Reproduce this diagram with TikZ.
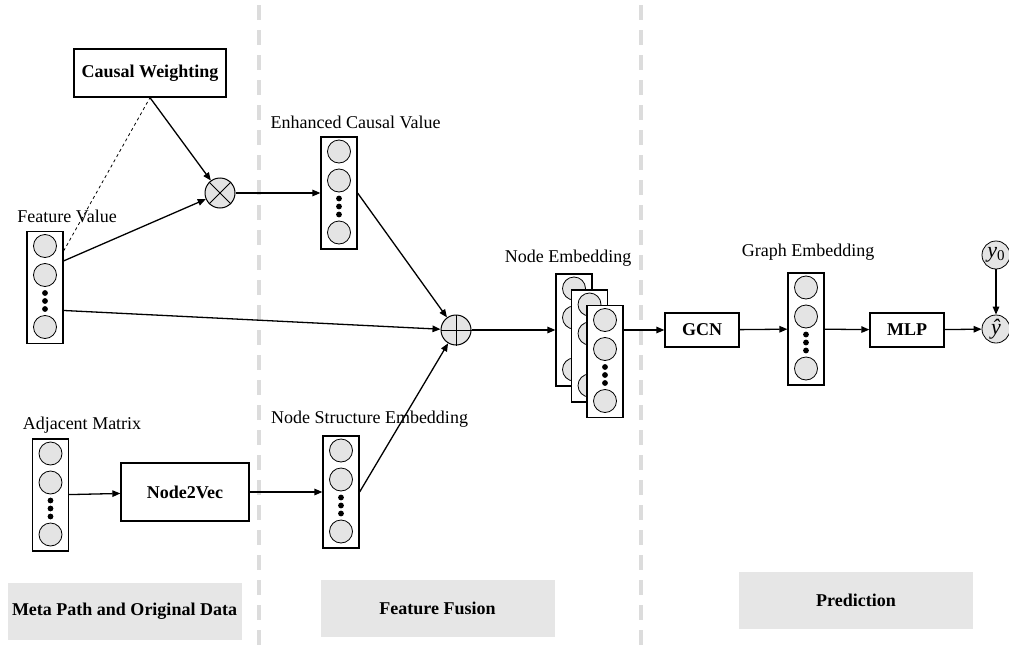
\documentclass[tikz,border=0pt]{standalone}
\usepackage{fontspec}
\setmainfont{Liberation Serif}
\usetikzlibrary{arrows.meta}
\definecolor{cGray}{RGB}{228,228,228}
\definecolor{bGray}{RGB}{230,230,230}
\definecolor{sepGray}{RGB}{220,220,220}
% feature vector: box with three cells and three dots
\newcommand{\featvec}[2]{%
  \node[vbox] (#1) at (#2) {};
  \foreach \k/\dy in {a/41.5,b/12.5,c/-39.5}
    \node[cell] (#1\k) at ([yshift=\dy pt]#1.center) {};
  \foreach \dy in {-5.5,-13.5,-21.5}
    \fill ([yshift=\dy pt]#1.center) circle (2.9);
}

\begin{document}
\begin{tikzpicture}[x=1pt,y=-1pt,font=\fontsize{18}{21}\selectfont,
  vbox/.style={draw,fill=white,line width=1.2pt,minimum width=36pt,minimum height=112pt,inner sep=0pt},
  cell/.style={circle,draw,fill=cGray,line width=0.8pt,minimum size=23pt,inner sep=0pt},
  opc/.style={circle,draw,fill=cGray,line width=1pt,minimum size=30pt,inner sep=0pt},
  bx/.style={draw,line width=1.3pt,inner sep=0pt,font=\fontsize{18}{21}\selectfont\bfseries},
  tag/.style={fill=bGray,minimum width=234pt,minimum height=57pt,inner sep=0pt,font=\fontsize{18}{21}\selectfont\bfseries},
  ycirc/.style={circle,draw,fill=cGray,line width=0.8pt,minimum size=28pt,inner sep=0pt,font=\fontsize{22}{22}\selectfont\itshape},
  ar/.style={-{Triangle[length=8pt,width=6.5pt]},line width=1.3pt},
  ln/.style={line width=1.3pt},
  divider/.style={draw=sepGray,line width=4pt,dash pattern=on 15pt off 10pt}]
\useasboundingbox (0,0) rectangle (1009,645);
\draw[divider] (259,5) -- (259,645);
\draw[divider] (641,5) -- (641,645);
\node[bx,minimum width=152pt,minimum height=48pt] (cw) at (150,73) {Causal Weighting};
\node[opc] (ot) at (220,193) {};
\draw[line width=1pt] (ot.45) -- (ot.225) (ot.135) -- (ot.315);
\node[opc] (op) at (456,330) {};
\draw[line width=1pt] (op.north) -- (op.south) (op.west) -- (op.east);
\featvec{fv}{45,287.5}
\featvec{ecv}{339,193}
\featvec{adj}{50.5,495}
\featvec{nse}{341,492}
\featvec{neA}{574,330}
\featvec{neB}{589.5,346}
\featvec{neC}{605,361.5}
\featvec{ge}{806,329}
\node (lfv) at (67,216) {Feature Value};
\node (lecv) at (355.5,122) {Enhanced Causal Value};
\node (ladj) at (82,425) {Adjacent Matrix};
\node (lnse) at (369.5,419) {Node Structure Embedding};
\node (lne) at (568,258) {Node Embedding};
\node (lge) at (808,252) {Graph Embedding};
\node[bx,minimum width=128pt,minimum height=58pt] (n2v) at (185,492) {Node2Vec};
\node[bx,minimum width=74pt,minimum height=34pt] (gcn) at (702,330) {GCN};
\node[bx,minimum width=74pt,minimum height=34pt] (mlp) at (907,330) {MLP};
\node[ycirc] (y0) at (996,255) {y\raisebox{-3pt}{\fontsize{15}{15}\selectfont\upshape 0}};
\node[ycirc] (yh) at (996,329) {ŷ};
\node[tag] (tmeta) at (124.5,611) {Meta Path and Original Data};
\node[tag] (tfuse) at (437.5,608) {Feature Fusion};
\node[tag] (tpred) at (856,600.5) {Prediction};
\draw[dashed,line width=0.8pt] (fv.63) -- (cw.south);
\draw[ar] (cw.south) -- (ot);
\draw[ar] (fv.55) -- (ot);
\draw[ar] (ot) -- (ecv);
\draw[ar] (fv.-51) -- (op);
\draw[ar] (ecv.east) -- (op);
\draw[ar] (nse.east) -- (op);
\draw[ar] (adj) -- (n2v);
\draw[ar] (n2v) -- (nse);
\draw[ar] (op) -- (neA);
\draw[ar] (neC.east |- gcn) -- (gcn);
\draw[ar] (gcn) -- (ge);
\draw[ar] (ge) -- (mlp);
\draw[ar] (mlp) -- (yh);
\draw[ar] (y0) -- (yh);
\end{tikzpicture}
\end{document}
